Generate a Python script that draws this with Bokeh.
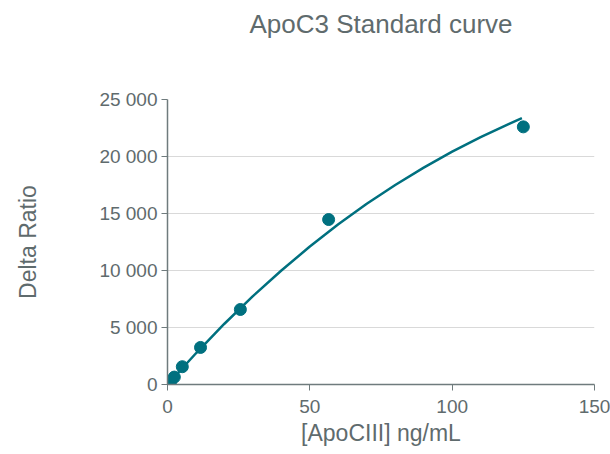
from bokeh.plotting import figure
from bokeh.models import Range1d, CustomJSTickFormatter, FixedTicker, Title
from bokeh.embed import file_html
from bokeh.resources import INLINE

# measured standards
conc = [0, 0.3, 0.6, 1.2, 2.4, 5.2, 11.6, 25.6, 56.6, 125]
delta_ratio = [0, 80, 160, 320, 650, 1560, 3250, 6580, 14470, 22600]

# fitted curve
fit_x = [0, 10, 20, 30, 40, 50, 60, 70, 80, 90, 100, 110, 120, 124.5]
fit_y = [0, 2740, 5330, 7750, 10000, 12100, 14050, 15850, 17500, 19020, 20420, 21700, 22870, 23370]

x_ticks = [0, 50, 100, 150]
y_ticks = [0, 5000, 10000, 15000, 20000, 25000]

TEXT = "#5f6b6d"
TEAL = "#00707f"
FONT = "Liberation Sans"

p = figure(width=610, height=454, output_backend="svg", toolbar_location=None,
           x_range=Range1d(0, 150), y_range=Range1d(0, 25000),
           min_border_left=167, min_border_right=16, min_border_bottom=70, min_border_top=99)
p.outline_line_color = None
p.background_fill_color = "white"

p.title.text = "ApoC3 Standard curve"
p.title.text_font = FONT
p.title.text_font_size = "26px"
p.title.text_font_style = "normal"
p.title.text_color = TEXT
p.title.align = "center"
p.add_layout(Title(text=" ", text_font_size="40px"), "above")

p.line(fit_x, fit_y, line_color=TEAL, line_width=2.5)
p.scatter(conc, delta_ratio, size=12, fill_color=TEAL, line_color=TEAL)

fmt = CustomJSTickFormatter(code="return tick.toString().replace(/\\B(?=(\\d{3})+(?!\\d))/g, ' ');")

p.xaxis.ticker = FixedTicker(ticks=x_ticks)
p.yaxis.ticker = FixedTicker(ticks=y_ticks)
p.yaxis.formatter = fmt
p.xaxis.axis_label = "[ApoCIII] ng/mL"
p.yaxis.axis_label = "Delta Ratio"
for ax in (p.xaxis, p.yaxis):
    ax.axis_label_text_font = FONT
    ax.axis_label_text_font_size = "23px"
    ax.axis_label_text_font_style = "normal"
    ax.axis_label_text_color = TEXT
    ax.major_label_text_font = FONT
    ax.major_label_text_font_size = "19px"
    ax.major_label_text_color = TEXT
    ax.axis_line_color = "#6f7b7d"
    ax.axis_line_width = 1.5
    ax.major_tick_line_color = "#6f7b7d"
    ax.major_tick_out = 6
    ax.major_tick_in = 0
    ax.minor_tick_line_color = None
p.yaxis.axis_label_standoff = 55
p.xaxis.axis_label_standoff = 4
p.xaxis.major_label_standoff = 9
p.yaxis.major_label_standoff = 4

p.xgrid.grid_line_color = None
p.ygrid.grid_line_color = "#d9d9d9"
p.ygrid.grid_line_width = 1

open("out.html", "w").write(file_html(p, INLINE))
